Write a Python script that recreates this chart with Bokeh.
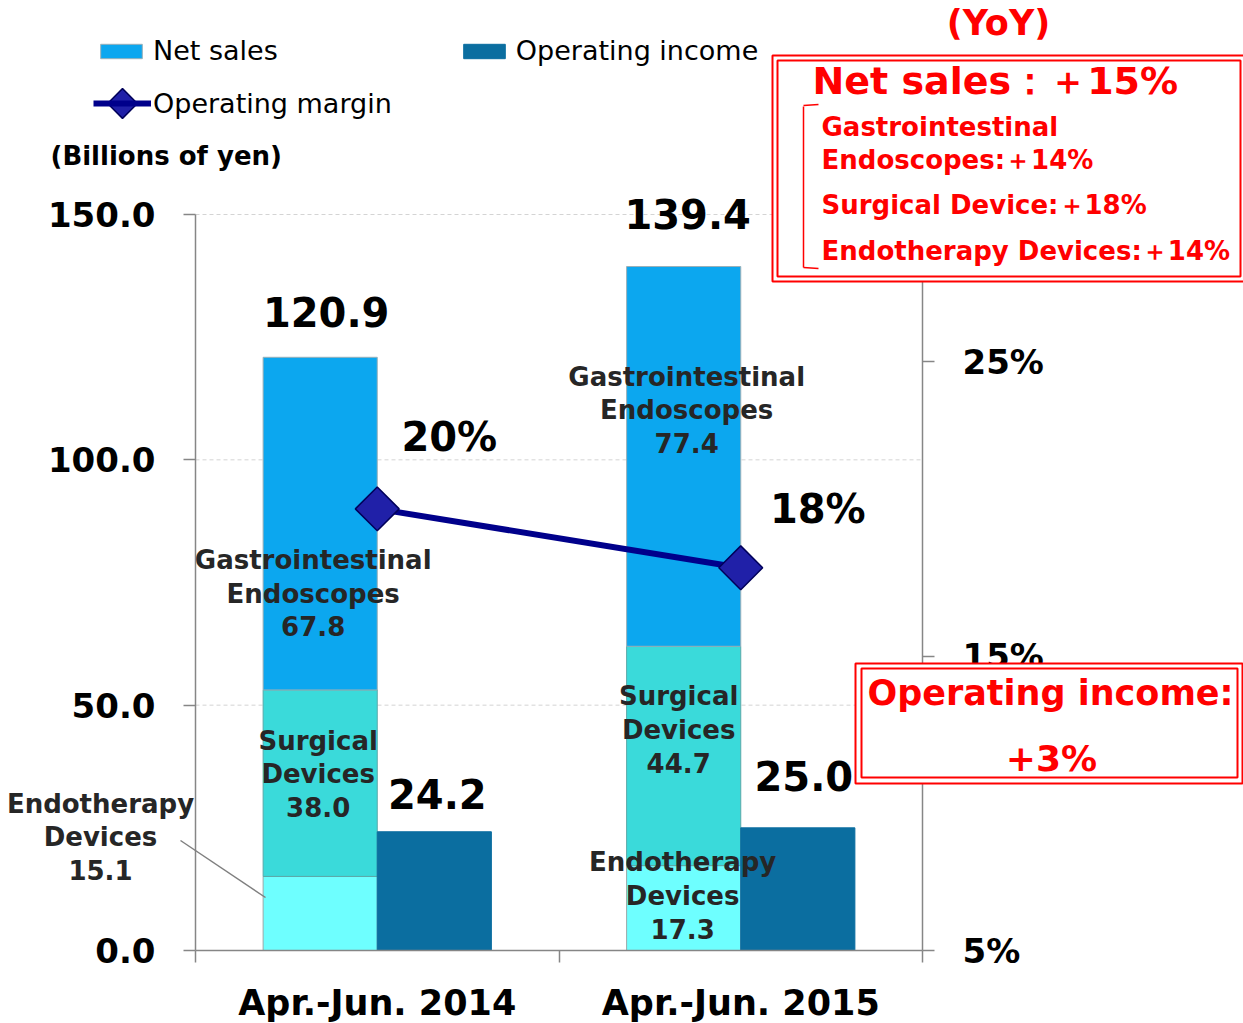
import numpy as np
from bokeh.plotting import figure
from bokeh.models import (Range1d, LinearAxis, FixedTicker, NumeralTickFormatter,
                          PrintfTickFormatter, ColumnDataSource, Label, BoxAnnotation,
                          Arrow, Legend, LegendItem)
from bokeh.core.properties import value
from bokeh.embed import file_html
from bokeh.resources import INLINE

# ---------------- data ----------------
categories = ["Apr.-Jun. 2014", "Apr.-Jun. 2015"]
segment_names = ["Endotherapy Devices", "Surgical Devices", "Gastrointestinal Endoscopes"]
endotherapy = [15.1, 17.3]
surgical = [38.0, 44.7]
gi_endoscopes = [67.8, 77.4]
net_sales = [120.9, 139.4]
operating_income = [24.2, 25.0]
operating_margin = [20, 18]          # percent
left_ticks = [0, 50, 100, 150]
right_ticks = [5, 15, 25]            # percent
yoy_title = "(YoY)"
yoy_net_sales = "Net sales：＋15%"
yoy_lines = ["Gastrointestinal", "Endoscopes:＋14%", "Surgical Device:＋18%",
             "Endotherapy Devices:＋14%"]
yoy_op_income = ["Operating income:", "+3%"]
unit_label = "(Billions of yen)"

# ---------------- layout ----------------
FONT = "DejaVu Sans"
W, H = 1243, 1023
AX_L, AX_R, AX_B = 195, 922, 950          # pixel positions of the axes
PX_PER_UNIT = 736 / 150.0
X_PX = (AX_R - AX_L) / 2.0
BAR_W = 0.314

def ix(px):   # canvas x pixel -> data x
    return (px - AX_L) / X_PX

def iy(py):   # canvas y pixel -> data y
    return (AX_B - py) / PX_PER_UNIT

def pct_to_left(v):
    return (v - 5) * 6.0

n = len(categories)
centers = [i + 0.5 for i in range(n)]
net_x = [c - BAR_W / 2 for c in centers]
op_x = [c + BAR_W / 2 for c in centers]

seg_colors = ["#6EFFFF", "#3ADADA", "#0CA7EF"]
op_color = "#0B6EA0"
LINE_COLOR = "#00008B"
MARK_FILL, MARK_LINE = "#2020A8", "#00005A"

y0, y1 = iy(H), iy(0)
p = figure(width=W, height=H, x_range=Range1d(ix(0), ix(W)), y_range=Range1d(y0, y1),
           min_border=0, output_backend="svg", toolbar_location=None,
           background_fill_color="white", border_fill_color="white",
           outline_line_color=None)
p.extra_y_ranges = {"pct": Range1d(5 + y0 / 6.0, 5 + y1 / 6.0)}
p.xgrid.visible = False
p.ygrid.visible = False

# ---------------- grid lines ----------------
grid_y = left_ticks[1:]
p.segment(x0=[0] * len(grid_y), x1=[n] * len(grid_y), y0=grid_y, y1=grid_y,
          line_color="#D4D4D4", line_dash="4 3", line_width=1, level="underlay")

# ---------------- bars ----------------
src = ColumnDataSource(dict(x=net_x, endo=endotherapy, surg=surgical, gi=gi_endoscopes))
stack_rs = p.vbar_stack(["endo", "surg", "gi"], x="x", width=BAR_W, source=src,
                        fill_color=seg_colors,
                        line_color=["#9AA8A8", "#5AA8A8", "#9AB0B8"], line_width=1)
op_r = p.vbar(x=op_x, top=operating_income, width=BAR_W,
              fill_color=op_color, line_color=op_color)

# ---------------- operating margin ----------------
line_r = p.line(x=centers, y=operating_margin, y_range_name="pct",
                line_color=LINE_COLOR, line_width=6)
pt_r = p.scatter(x=centers, y=operating_margin, y_range_name="pct", marker="square",
                 size=31, angle=np.pi / 4, fill_color=MARK_FILL, line_color=MARK_LINE,
                 line_width=1.5)

# ---------------- value labels ----------------
val_offsets = {"net": [(6, -45), (4, -53)], "op": [(3, -38), (6, -52)],
               "pct": [(72, -72), (77, -59)]}
vx, vy, vt, vxo, vyo = [], [], [], [], []
for i in range(n):
    vx.append(net_x[i]); vy.append(net_sales[i]); vt.append(f"{net_sales[i]:.1f}")
    vxo.append(val_offsets["net"][i][0]); vyo.append(val_offsets["net"][i][1])
    vx.append(op_x[i]); vy.append(operating_income[i]); vt.append(f"{operating_income[i]:.1f}")
    vxo.append(val_offsets["op"][i][0]); vyo.append(val_offsets["op"][i][1])
    vx.append(centers[i]); vy.append(pct_to_left(operating_margin[i]))
    vt.append(f"{operating_margin[i]}%")
    vxo.append(val_offsets["pct"][i][0]); vyo.append(val_offsets["pct"][i][1])
vsrc = ColumnDataSource(dict(x=vx, y=vy, text=vt, xo=vxo, yo=vyo))
p.text(x="x", y="y", text="text", x_offset="xo", y_offset="yo", source=vsrc,
       text_font=value(FONT), text_font_style="bold", text_font_size="40px",
       text_color="black", text_align="center", text_baseline="middle")

# ---------------- segment labels ----------------
segs = [endotherapy, surgical, gi_endoscopes]
seg_offsets = {(1, 0): (-2, -9), (2, 0): (-7, 70),
               (0, 1): (-1, -12), (1, 1): (-5, -26), (2, 1): (3, -46)}
sx, sy, st, sxo, syo = [], [], [], [], []
outside = []
for i in range(n):
    base = 0.0
    for s, vals in enumerate(segs):
        txt = "\n".join(segment_names[s].split(" ")) + f"\n{vals[i]:.1f}"
        mid = base + vals[i] / 2
        if (s, i) in seg_offsets:
            sx.append(net_x[i]); sy.append(mid); st.append(txt)
            sxo.append(seg_offsets[(s, i)][0]); syo.append(seg_offsets[(s, i)][1])
        else:
            outside.append(txt)
        base += vals[i]
ssrc = ColumnDataSource(dict(x=sx, y=sy, text=st, xo=sxo, yo=syo))
p.text(x="x", y="y", text="text", x_offset="xo", y_offset="yo", source=ssrc,
       text_font=value(FONT), text_font_style="bold", text_font_size="26px",
       text_color="#262626", text_align="center", text_baseline="middle",
       text_line_height=1.12)

for txt in outside:
    p.add_layout(Label(x=ix(100), y=iy(837), text=txt, text_font=FONT,
                       text_font_style="bold", text_font_size="26px",
                       text_color="#262626", text_align="center",
                       text_baseline="middle", text_line_height=1.12))
    p.add_layout(Arrow(end=None, x_start=ix(180), y_start=iy(840), x_end=ix(265),
                       y_end=iy(897), line_color="#7F7F7F", line_width=1.5))

# ---------------- axes ----------------
GRAY = "#868686"
xa = p.xaxis[0]
xa.fixed_location = 0
xa.bounds = (0, n)
xa.ticker = FixedTicker(ticks=centers, minor_ticks=list(range(n + 1)))
xa.major_label_overrides = {c: categories[i] for i, c in enumerate(centers)}
xa.major_tick_out = 0
xa.major_tick_in = 0
xa.major_tick_line_color = None
xa.minor_tick_out = 12
xa.minor_tick_in = 0
xa.minor_tick_line_color = GRAY
xa.minor_tick_line_width = 1.5
xa.axis_line_color = GRAY
xa.axis_line_width = 1.5
xa.major_label_standoff = 20
xa.major_label_text_font = FONT
xa.major_label_text_font_style = "bold"
xa.major_label_text_font_size = "35px"
xa.major_label_text_color = "black"

ya = p.yaxis[0]
ya.fixed_location = 0
ya.ticker = FixedTicker(ticks=left_ticks)
ya.formatter = NumeralTickFormatter(format="0.0")
ya.bounds = (0, 150)
ya.major_tick_out = 12
ya.major_tick_in = 0
ya.major_tick_line_color = GRAY
ya.major_tick_line_width = 1.5
ya.minor_tick_line_color = None
ya.axis_line_color = GRAY
ya.axis_line_width = 1.5
ya.major_label_standoff = 28
ya.major_label_text_font = FONT
ya.major_label_text_font_style = "bold"
ya.major_label_text_font_size = "34px"
ya.major_label_text_color = "black"

ra = LinearAxis(y_range_name="pct", fixed_location=n,
                ticker=FixedTicker(ticks=right_ticks),
                formatter=PrintfTickFormatter(format="%d%%"), bounds=(5, 30),
                major_tick_out=12, major_tick_in=0, major_tick_line_color=GRAY,
                major_tick_line_width=1.5, minor_tick_line_color=None,
                axis_line_color=GRAY, axis_line_width=1.5, major_label_standoff=28,
                major_label_text_font=FONT, major_label_text_font_style="bold",
                major_label_text_font_size="34px", major_label_text_color="black")
p.add_layout(ra, "right")

# ---------------- legends ----------------
leg1 = Legend(items=[LegendItem(label="Net sales", renderers=[stack_rs[2]]),
                     LegendItem(label="Operating income", renderers=[op_r])],
              orientation="horizontal", location=(95, H - 66), spacing=180,
              glyph_width=52, glyph_height=18, label_standoff=6,
              label_text_font=FONT, label_text_font_size="27px",
              label_text_color="black", padding=0, margin=0,
              border_line_color=None, background_fill_alpha=0)
leg2 = Legend(items=[LegendItem(label="Operating margin", renderers=[line_r])],
              orientation="horizontal", location=(93, H - 120),
              glyph_width=58, glyph_height=34, label_standoff=2,
              label_text_font=FONT, label_text_font_size="27px",
              label_text_color="black", padding=0, margin=0,
              border_line_color=None, background_fill_alpha=0)
p.add_layout(leg1, "center")
p.add_layout(leg2, "center")
# diamond key of the "Operating margin" legend entry (legend markers ignore angle)
p.scatter(x=[ix(122)], y=[iy(103)], marker="square", size=21, angle=np.pi / 4,
          fill_color=MARK_FILL, line_color=MARK_LINE, line_width=1.5)

p.add_layout(Label(x=ix(50), y=iy(155), text=unit_label, text_font=FONT,
                   text_font_style="bold", text_font_size="26px", text_color="black",
                   text_align="left", text_baseline="middle"))

# ---------------- YoY boxes ----------------
RED = "#FF0000"
def box(l, t, r, b, fill):
    return BoxAnnotation(left=ix(l), right=ix(r), top=iy(t), bottom=iy(b),
                         fill_color="white", fill_alpha=1.0 if fill else 0.0,
                         line_color=RED, line_width=2, line_alpha=1.0, level="overlay")

p.add_layout(box(772, 55, 1244, 281, True))
p.add_layout(box(777, 60, 1240, 276, False))
p.add_layout(box(855, 663, 1242, 783, True))
p.add_layout(box(861, 668, 1237, 777, False))

def red_label(txt, px, py, size, align="left"):
    return Label(x=ix(px), y=iy(py), text=txt, text_font=FONT, text_font_style="bold",
                 text_font_size=size, text_color=RED, text_align=align,
                 text_baseline="middle", level="overlay")

p.add_layout(red_label(yoy_title, 998, 22, "35px", "center"))
p.add_layout(red_label(yoy_net_sales, 812, 80, "38px"))
for txt, py in zip(yoy_lines, [126, 159, 204, 250]):
    p.add_layout(red_label(txt, 821, py, "26px"))
p.add_layout(red_label(yoy_op_income[0], 1050, 692, "35px", "center"))
p.add_layout(red_label(yoy_op_income[1], 1051, 758, "36px", "center"))

for xs, ys, xe, ye in [(803, 106, 803, 267), (803, 105, 818, 104), (803, 267, 818, 268)]:
    p.add_layout(Arrow(end=None, x_start=ix(xs), y_start=iy(ys), x_end=ix(xe),
                       y_end=iy(ye), line_color=RED, line_width=1.5, level="overlay"))

open("out.html", "w").write(file_html(p, INLINE))
